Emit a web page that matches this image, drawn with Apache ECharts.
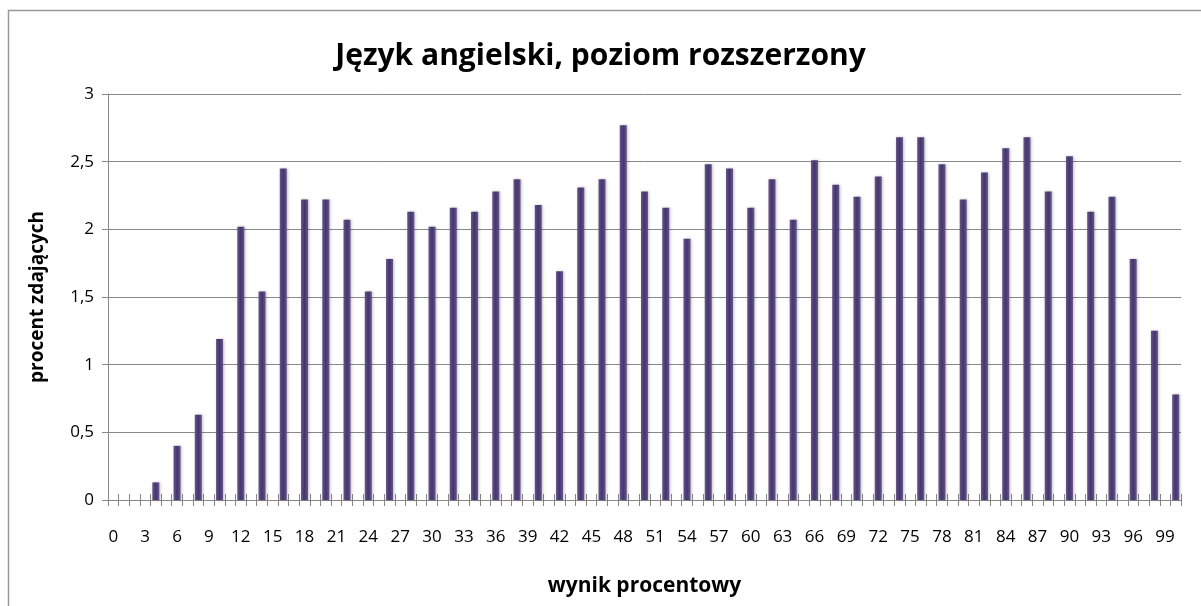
<!DOCTYPE html>
<html>
<head>
<meta charset="utf-8">
<title>Język angielski, poziom rozszerzony</title>
<script src="https://cdn.jsdelivr.net/npm/echarts@6/dist/echarts.min.js"></script>
<style>
  html, body { margin: 0; padding: 0; background: #fff; }
  #chart { width: 1201px; height: 606px; }
</style>
</head>
<body>
<div id="chart"></div>
<script>
// wynik procentowy 0..100, etykiety co 3
const categories = [];
for (let i = 0; i <= 100; i++) categories.push(String(i));

// wyniki parzyste, które mają słupki
const scores = [0, 2, 4, 6, 8, 10, 12, 14, 16, 18, 20, 22, 24, 26, 28, 30, 32, 34, 36, 38, 40,
  42, 44, 46, 48, 50, 52, 54, 56, 58, 60, 62, 64, 66, 68, 70, 72, 74, 76, 78, 80,
  82, 84, 86, 88, 90, 92, 94, 96, 98, 100];
const percents = [0, 0, 0.13, 0.40, 0.63, 1.19, 2.02, 1.54, 2.45, 2.22, 2.22, 2.07, 1.54, 1.78, 2.13, 2.02, 2.16, 2.13, 2.28, 2.37, 2.18,
  1.69, 2.31, 2.37, 2.77, 2.28, 2.16, 1.93, 2.48, 2.45, 2.16, 2.37, 2.07, 2.51, 2.33, 2.24, 2.39, 2.68, 2.68, 2.48, 2.22,
  2.42, 2.60, 2.68, 2.28, 2.54, 2.13, 2.24, 1.78, 1.25, 0.78];

const yTicks = [0, 0.5, 1, 1.5, 2, 2.5, 3];

const font = '"Open Sans"';

let barData = categories.map(() => null);
scores.forEach((s, i) => { barData[s] = percents[i]; });

const chart = echarts.init(document.getElementById('chart'));
chart.setOption({
  animation: false,
  backgroundColor: '#fff',
  title: {
    text: 'Język angielski, poziom rozszerzony',
    left: 'center',
    top: 36,
    textStyle: { fontFamily: font, fontSize: 30, fontWeight: 'bold', color: '#000' }
  },
  graphic: [{
    type: 'rect',
    shape: { x: 8.5, y: 10.5, width: 1300, height: 700 },
    style: { fill: null, stroke: '#999', lineWidth: 1.5 },
    silent: true
  }],
  grid: { left: 108, right: 20, top: 94, bottom: 106 },
  xAxis: [{
    type: 'category',
    data: categories,
    name: 'wynik procentowy',
    nameLocation: 'middle',
    nameGap: 76,
    nameTextStyle: { fontFamily: font, fontSize: 21, fontWeight: 'bold', color: '#000' },
    axisLine: { lineStyle: { color: '#888', width: 1 } },
    axisTick: { show: true, interval: 0, length: 6, lineStyle: { color: '#888' } },
    axisLabel: { interval: 2, margin: 29, fontFamily: font, fontSize: 17, color: '#000' },
    splitLine: { show: false }
  }, {
    type: 'category',
    data: categories,
    position: 'bottom',
    axisLine: { show: false },
    axisTick: { show: true, inside: true, interval: 0, length: 6, lineStyle: { color: '#888' } },
    axisLabel: { show: false },
    splitLine: { show: false }
  }],
  yAxis: {
    type: 'value',
    min: 0,
    max: 3,
    interval: 0.5,
    name: 'procent zdających',
    nameLocation: 'middle',
    nameGap: 61,
    nameTextStyle: { fontFamily: font, fontSize: 19, fontWeight: 'bold', color: '#000' },
    axisLine: { show: true, lineStyle: { color: '#888', width: 1 } },
    axisTick: { show: true, length: 6, lineStyle: { color: '#888' } },
    axisLabel: {
      margin: 14,
      fontFamily: font,
      fontSize: 17,
      color: '#000',
      formatter: v => yTicks.indexOf(v) >= 0 ? String(v).replace('.', ',') : ''
    },
    splitLine: { show: true, lineStyle: { color: '#888', width: 1 } }
  },
  series: [{
    type: 'bar',
    data: barData,
    barWidth: 7,
    xAxisIndex: 0,
    itemStyle: {
      color: new echarts.graphic.LinearGradient(0, 0, 1, 0, [
        { offset: 0, color: '#66548c' },
        { offset: 0.5, color: '#46356b' },
        { offset: 1, color: '#66548c' }
      ]),
      shadowColor: 'rgba(0,0,0,0.25)',
      shadowBlur: 3,
      shadowOffsetX: 1
    }
  }]
});
</script>
</body>
</html>
